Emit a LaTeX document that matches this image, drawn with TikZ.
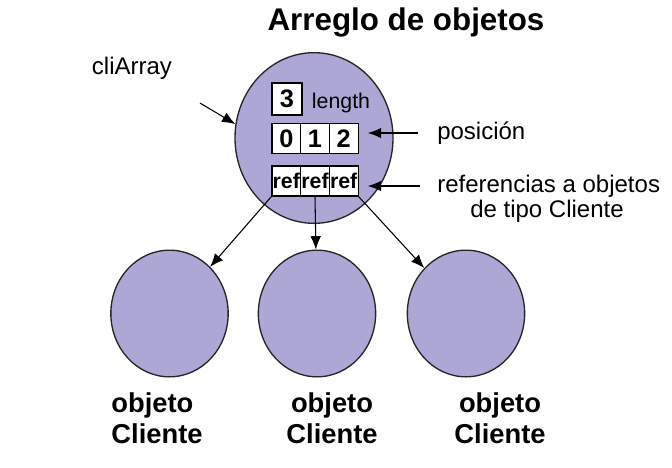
\documentclass[tikz,border=0pt]{standalone}
\usepackage{fontspec}
\setmainfont{Liberation Sans}
\usepackage{tikz}
\usetikzlibrary{shapes.geometric}
\usetikzlibrary{arrows.meta}
\definecolor{objfill}{RGB}{172,167,212}

\begin{document}
\begin{tikzpicture}[x=0.75pt,y=-0.75pt,
  obj/.style={ellipse, draw=black!85, line width=1pt, fill=objfill, inner sep=0},
  cell/.style={draw, fill=white, line width=0.8pt, minimum width=21.5pt, minimum height=23pt, inner sep=0, font=\bfseries\fontsize{19}{19}\selectfont},
  refcell/.style={cell, minimum height=22.5pt, font=\bfseries\fontsize{16}{16}\selectfont},
  lbl/.style={font=\fontsize{18}{21}\selectfont, inner sep=0},
  objlbl/.style={font=\bfseries\fontsize{20.5}{23}\selectfont, inner sep=0},
  arr/.style={-{Latex[length=10pt,width=8pt]}, line width=0.8pt}]
\useasboundingbox (0,0) rectangle (672,468);
\node (title) at (406,22) [font=\bfseries\fontsize{23.5}{26}\selectfont]{Arreglo de objetos};
% the array object
\node (arr) at (314,138) [obj, minimum width=118.5pt, minimum height=128pt]{};
\node (len) at (287,99) [cell, minimum width=22.5pt, minimum height=24pt]{3};
\node (lenlbl) at (341,103) [font=\fontsize{16}{18}\selectfont, inner sep=0]{length};
\node (p0) at (286.3,138.5) [cell]{0};
\node (p1) at (315,138.5) [cell]{1};
\node (p2) at (343.7,138.5) [cell]{2};
\node (r0) at (286.3,181) [refcell]{ref};
\node (r1) at (315,181) [refcell]{ref};
\node (r2) at (343.7,181) [refcell]{ref};
% labels
\node (cli) at (132,68) [lbl]{cliArray};
\coordinate (clitail) at (200,103);
\node (pos) at (437,133) [lbl, anchor=west]{posición};
\node (refl) at (437,186) [lbl, anchor=west]{referencias a objetos};
\node (refl2) at (547,211) [lbl]{de tipo Cliente};
% client objects
\node (c1) at (169.5,313.5) [obj, minimum width=88pt, minimum height=95pt]{};
\node (c2) at (317,313.5) [obj, minimum width=88pt, minimum height=95pt]{};
\node (c3) at (466,313.5) [obj, minimum width=88pt, minimum height=95pt]{};
\node (o1) at (157,418) [objlbl, align=left]{objeto\\Cliente};
\node (o2) at (332,418) [objlbl, align=center]{objeto\\Cliente};
\node (o3) at (500,418) [objlbl, align=center]{objeto\\Cliente};
% arrows
\draw[arr] (clitail) -- (arr.170);
\draw[arr] ([xshift=-14pt]pos.west) -- ([xshift=7pt]pos.west -| p2.east);
\draw[arr] ([xshift=-13pt]refl.west) -- ([xshift=7pt]refl.west -| r2.east);
\draw[arr] (r0.south west) -- (c1);
\draw[arr] (r1.south) -- (c2);
\draw[arr] (r2.south east) -- (c3);
\end{tikzpicture}
\end{document}
